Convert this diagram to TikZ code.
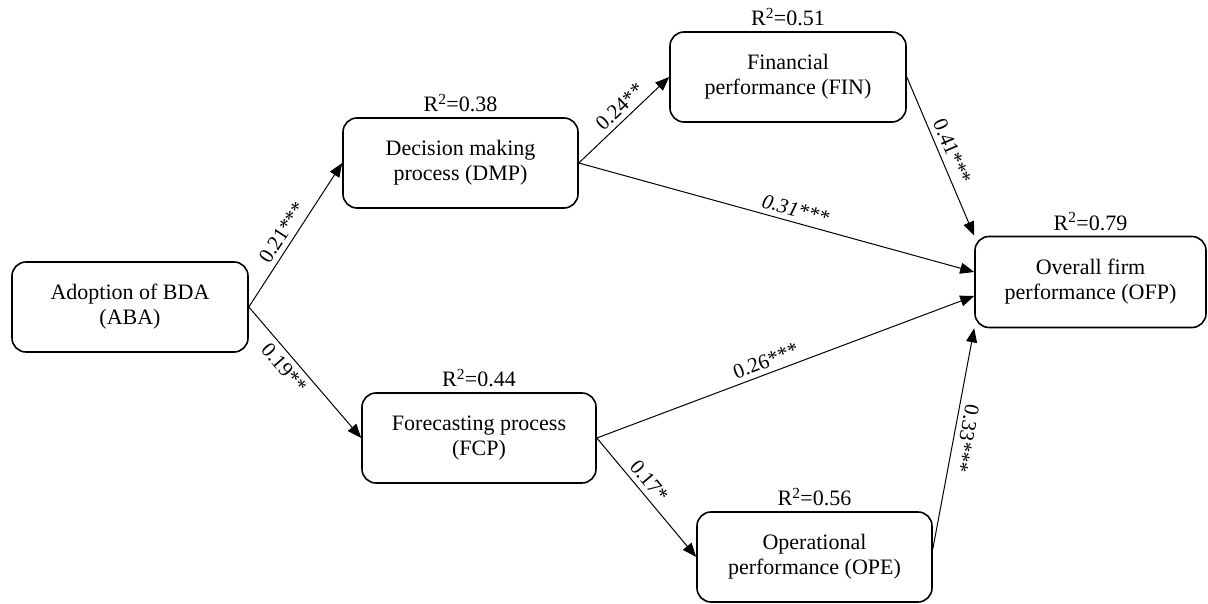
\documentclass[tikz,border=0pt]{standalone}
\usepackage{fontspec}
\setmainfont{Liberation Serif}
\usetikzlibrary{arrows.meta,calc}
\begin{document}
\begin{tikzpicture}[x=1pt,y=-1pt,
  box/.style={draw, line width=1.6pt, rounded corners=14pt, minimum width=236pt, minimum height=90pt, align=center, inner sep=0pt, font=\fontsize{22}{25}\selectfont},
  rsq/.style={font=\fontsize{22}{25}\selectfont, inner sep=0pt},
  link/.style={line width=1pt, -{Triangle[length=14pt,width=11pt]}},
  rlink/.style={line width=1pt, {Triangle[length=14pt,width=11pt]}-},
  lab/.style={font=\fontsize{21}{24}\selectfont, sloped, inner sep=5pt}]
\useasboundingbox (0,0) rectangle (1208,604);

\node[box] (ABA) at (130,307) {Adoption of BDA\\(ABA)};
\node[box, minimum width=235pt] (DMP) at (460.5,163) {Decision making\\process (DMP)};
\node[box] (FIN) at (788,77) {Financial\\performance (FIN)};
\node[box, minimum width=231pt, minimum height=91pt] (OFP) at (1090.5,282) {Overall firm\\performance (OFP)};
\node[box, minimum width=234pt] (FCP) at (479,438) {Forecasting process\\(FCP)};
\node[box, minimum width=235pt] (OPE) at (814.5,557) {Operational\\performance (OPE)};

\node[rsq] (rDMP) at ([yshift=14pt]DMP.north) {R\textsuperscript{2}=0.38};
\node[rsq] (rFIN) at ([yshift=14pt]FIN.north) {R\textsuperscript{2}=0.51};
\node[rsq] (rOFP) at ([yshift=14pt]OFP.north) {R\textsuperscript{2}=0.79};
\node[rsq] (rFCP) at ([yshift=14pt]FCP.north) {R\textsuperscript{2}=0.44};
\node[rsq] (rOPE) at ([yshift=14pt]OPE.north) {R\textsuperscript{2}=0.56};

\draw[link] (ABA.east) -- node[lab, above, pos=0.47] {0.21***} (DMP.west);
\draw[link] (ABA.east) -- node[lab, below, pos=0.40] {0.19**} (FCP.west);
\draw[link] (DMP.east) -- node[lab, above, pos=0.55] {0.24**} (FIN.west);
\draw[link] (DMP.east) -- node[lab, above, pos=0.54] {\itshape 0.31***} ([yshift=10pt]OFP.west);
\draw[link] (FCP.east) -- node[lab, above, pos=0.46] {0.26***} ([yshift=-14pt]OFP.west);
\draw[link] (FCP.east) -- node[lab, above, pos=0.43] {0.17*} (OPE.west);
\draw[link] (FIN.east) -- node[lab, above, pos=0.5] {0.41***} (OFP.north west);
\draw[rlink] (OFP.south west) -- node[lab, above, allow upside down, pos=0.49] {0.33***} ([yshift=8pt]OPE.east);
\end{tikzpicture}
\end{document}
